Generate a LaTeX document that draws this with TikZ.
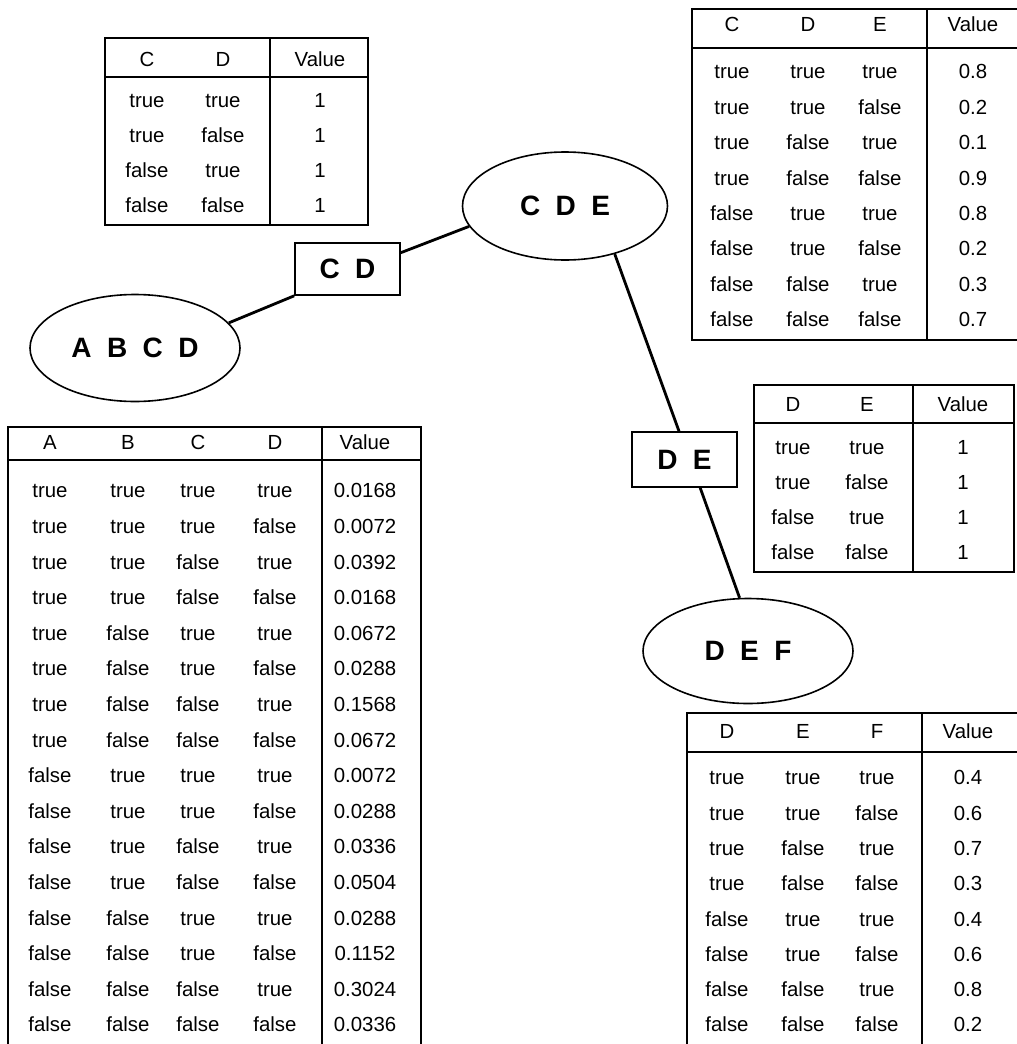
\documentclass[tikz,border=0pt]{standalone}
\usepackage{fontspec}
\setmainfont{Liberation Sans}
\usetikzlibrary{shapes.geometric}
\newcommand{\lsp}{\hspace{0.55em}}
\begin{document}
\begin{tikzpicture}[x=0.5pt,y=-0.5pt,
  cell/.style={inner sep=0pt,text height=7.2pt,text depth=0.4pt,font=\fontsize{10.2}{12}\selectfont},
  ell/.style={draw,ellipse,line width=0.8pt,inner sep=0pt,font=\fontsize{14}{16}\bfseries\selectfont},
  sepbox/.style={draw,rectangle,line width=0.8pt,inner sep=0pt,font=\fontsize{14}{16}\bfseries\selectfont},
  tframe/.style={line width=1pt},
  tline/.style={line width=0.9pt},
  conn/.style={line width=1.4pt}]
\useasboundingbox (0,0) rectangle (1017,1044);
% ---------------- nodes of the junction tree
\node[ell,minimum width=102.5pt,minimum height=54pt] (cde) at (565,206) {C\lsp D\lsp E};
\node[ell,minimum width=105pt,minimum height=53.5pt] (abcd) at (135,348) {A\lsp B\lsp C\lsp D};
\node[ell,minimum width=105pt,minimum height=52.5pt] (def) at (748,651) {D\lsp E\lsp F};
\node[sepbox,minimum width=52.5pt,minimum height=26pt] (cd) at (347.5,269) {C\lsp D};
\node[sepbox,minimum width=52.5pt,minimum height=27.5pt] (de) at (684.5,459.5) {D\lsp E};
\draw[conn] (abcd.15) -- (cd.south west);
\draw[conn] (cd.17) -- (cde.192);
\draw[conn] (cde.-44) -- (de.101);
\draw[conn] (de.-61) -- (def.99);
% ---------------- table C D
\draw[tframe] (105,38) rectangle (368,225);
\draw[tline] (105,77) -- (368,77);
\draw[tline] (270,38) -- (270,225);
\node[cell] (cdh1) at (147,60) {C};
\node[cell] (cdh2) at (223,60) {D};
\node[cell] (cdh3) at (320,60) {Value};
\foreach \a/\b/\v [count=\i from 0] in {true/true/1,true/false/1,false/true/1,false/false/1}{
  \node[cell] (cd-\i-a) at (147,{101+35*\i}) {\a};
  \node[cell] (cd-\i-b) at (223,{101+35*\i}) {\b};
  \node[cell] (cd-\i-v) at (320,{101+35*\i}) {\v};
}
% ---------------- table C D E
\draw[tframe] (1017,9) -- (692,9) -- (692,340) -- (1017,340);
\draw[tline] (692,48) -- (1017,48);
\draw[tline] (927,9) -- (927,340);
\node[cell] (cdeh1) at (732,25) {C};
\node[cell] (cdeh2) at (808,25) {D};
\node[cell] (cdeh3) at (880,25) {E};
\node[cell] (cdeh4) at (973,25) {Value};
\foreach \a/\b/\c/\v [count=\i from 0] in {true/true/true/0.8,true/true/false/0.2,true/false/true/0.1,true/false/false/0.9,false/true/true/0.8,false/true/false/0.2,false/false/true/0.3,false/false/false/0.7}{
  \node[cell] (cde-\i-a) at (732,{72+35.4*\i}) {\a};
  \node[cell] (cde-\i-b) at (808,{72+35.4*\i}) {\b};
  \node[cell] (cde-\i-c) at (880,{72+35.4*\i}) {\c};
  \node[cell] (cde-\i-v) at (973,{72+35.4*\i}) {\v};
}
% ---------------- table D E
\draw[tframe] (754,385) rectangle (1014,572);
\draw[tline] (754,423) -- (1014,423);
\draw[tline] (913,385) -- (913,572);
\node[cell] (deh1) at (793,405) {D};
\node[cell] (deh2) at (867,405) {E};
\node[cell] (deh3) at (963,405) {Value};
\foreach \a/\b/\v [count=\i from 0] in {true/true/1,true/false/1,false/true/1,false/false/1}{
  \node[cell] (de-\i-a) at (793,{448+35*\i}) {\a};
  \node[cell] (de-\i-b) at (867,{448+35*\i}) {\b};
  \node[cell] (de-\i-v) at (963,{448+35*\i}) {\v};
}
% ---------------- table D E F
\draw[tframe] (1017,713) -- (687,713) -- (687,1044);
\draw[tline] (687,752) -- (1017,752);
\draw[tline] (922,713) -- (922,1044);
\node[cell] (defh1) at (727,732) {D};
\node[cell] (defh2) at (803,732) {E};
\node[cell] (defh3) at (877,732) {F};
\node[cell] (defh4) at (968,732) {Value};
\foreach \a/\b/\c/\v [count=\i from 0] in {true/true/true/0.4,true/true/false/0.6,true/false/true/0.7,true/false/false/0.3,false/true/true/0.4,false/true/false/0.6,false/false/true/0.8,false/false/false/0.2}{
  \node[cell] (def-\i-a) at (727,{778+35.3*\i}) {\a};
  \node[cell] (def-\i-b) at (803,{778+35.3*\i}) {\b};
  \node[cell] (def-\i-c) at (877,{778+35.3*\i}) {\c};
  \node[cell] (def-\i-v) at (968,{778+35.3*\i}) {\v};
}
% ---------------- table A B C D
\draw[tframe] (8,1044) -- (8,427) -- (421,427) -- (421,1044);
\draw[tline] (8,460) -- (421,460);
\draw[tline] (322,427) -- (322,1044);
\node[cell] (abcdh1) at (50,443) {A};
\node[cell] (abcdh2) at (128,443) {B};
\node[cell] (abcdh3) at (198,443) {C};
\node[cell] (abcdh4) at (275,443) {D};
\node[cell] (abcdh5) at (365,443) {Value};
\foreach \a/\b/\c/\d/\v [count=\i from 0] in {
  true/true/true/true/0.0168,
  true/true/true/false/0.0072,
  true/true/false/true/0.0392,
  true/true/false/false/0.0168,
  true/false/true/true/0.0672,
  true/false/true/false/0.0288,
  true/false/false/true/0.1568,
  true/false/false/false/0.0672,
  false/true/true/true/0.0072,
  false/true/true/false/0.0288,
  false/true/false/true/0.0336,
  false/true/false/false/0.0504,
  false/false/true/true/0.0288,
  false/false/true/false/0.1152,
  false/false/false/true/0.3024,
  false/false/false/false/0.0336}{
  \node[cell] (abcd-\i-a) at (50,{491+35.6*\i}) {\a};
  \node[cell] (abcd-\i-b) at (128,{491+35.6*\i}) {\b};
  \node[cell] (abcd-\i-c) at (198,{491+35.6*\i}) {\c};
  \node[cell] (abcd-\i-d) at (275,{491+35.6*\i}) {\d};
  \node[cell] (abcd-\i-v) at (365,{491+35.6*\i}) {\v};
}
\end{tikzpicture}
\end{document}
